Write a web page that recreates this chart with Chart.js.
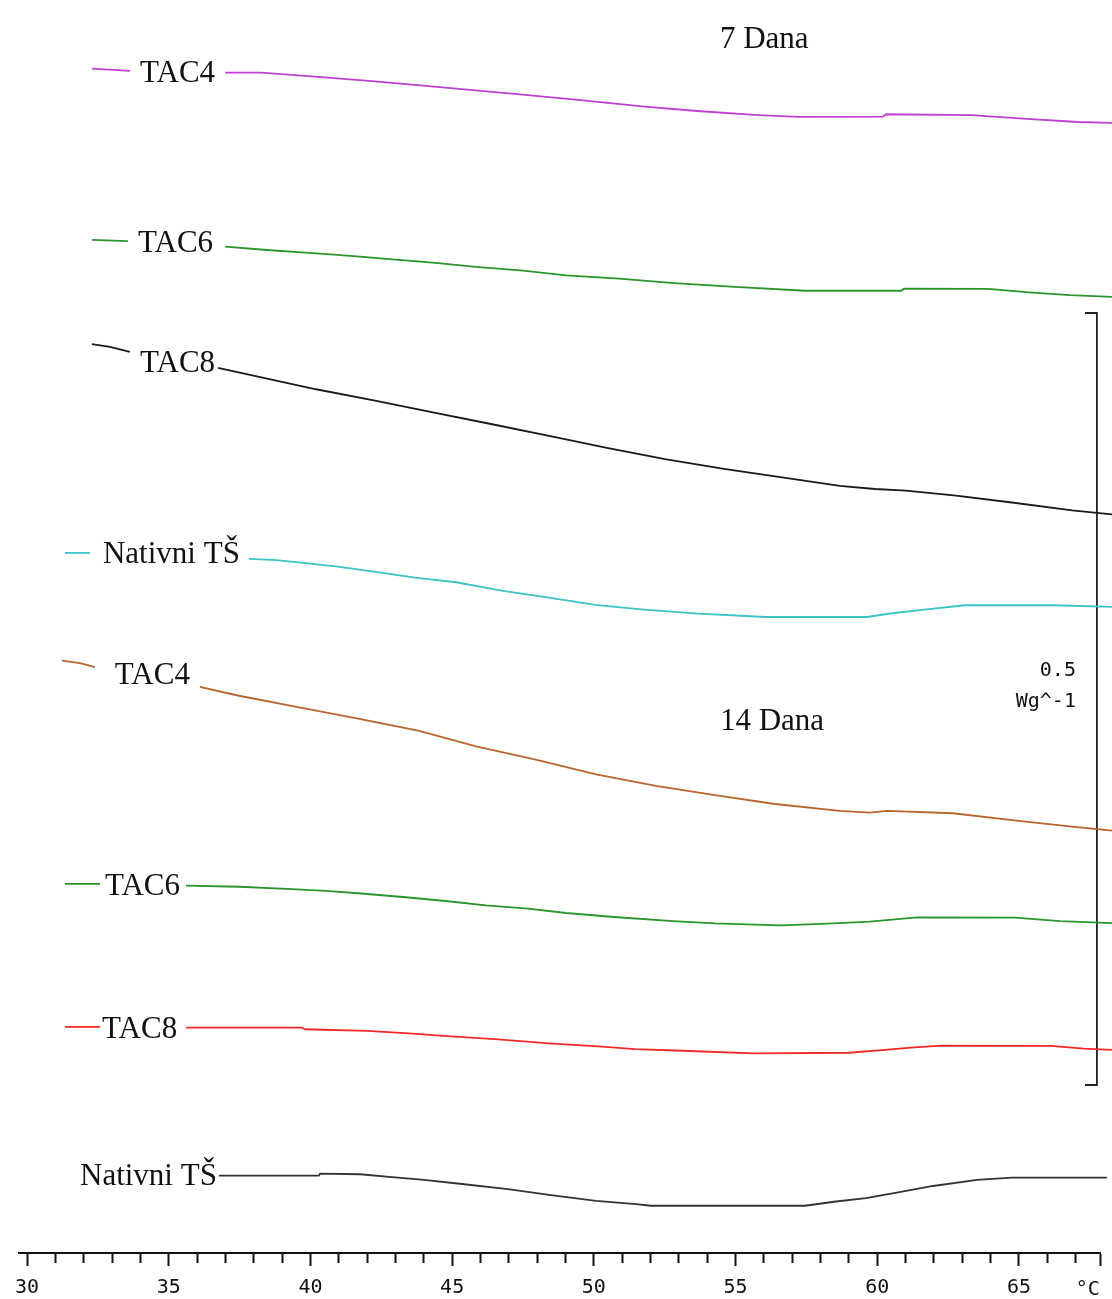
<!DOCTYPE html>
<html lang="hr">
<head>
  <meta charset="UTF-8" />
  <title>DSC – TAC uzorci, 7 i 14 dana</title>
  <script src="https://cdn.jsdelivr.net/npm/chart.js"></script>
  <style>
    body { margin: 0; background: #fff; }
    .wrap { width: 1112px; height: 1299px; }
  </style>
</head>
<body>
  <div class="wrap"><canvas id="dsc"></canvas></div>

  <script>
    // temperature (°C) and heat flow (mW/g, offset curves); null = gap behind a label
    const tac4_7T = [32.29, 33.63, 35.3, 36.99, 38.26, 39.81, 41.96, 43.58, 45.14, 47.29, 49.44, 51.80, 53.64, 55.79, 57.24, 60.20, 60.31, 63.31, 65.14, 67.08, 68.28];
    const tac4_7V = [767.0, 765.6, null, 764.5, 764.5, 762.3, 759.3, 756.7, 754.1, 750.5, 746.8, 742.4, 739.6, 737.0, 735.8, 736.0, 737.5, 737.0, 734.7, 732.5, 731.9];

    const tac6_7T = [32.29, 33.56, 35.3, 36.99, 38.47, 39.70, 40.83, 41.85, 42.67, 44.32, 45.84, 47.50, 49.02, 50.89, 52.83, 54.98, 57.45, 60.84, 60.94, 63.91, 65.46, 66.80, 68.28];
    const tac6_7V = [656.1, 655.4, null, 651.8, 649.6, 648.1, 646.6, 645.1, 643.8, 641.4, 638.6, 636.2, 633.2, 631.0, 628.2, 625.7, 623.2, 623.2, 624.5, 624.4, 622.0, 620.3, 619.2];

    const tac8_7T = [32.29, 32.93, 33.63, 35.2, 36.74, 38.15, 40.20, 42.28, 44.32, 46.37, 48.42, 50.46, 52.51, 54.59, 56.64, 58.68, 59.92, 61.01, 62.78, 64.82, 66.87, 68.28];
    const tac8_7V = [588.7, 586.8, 583.6, null, 573.2, 567.6, 559.4, 552.0, 544.5, 536.9, 529.2, 521.4, 514.1, 507.8, 502.4, 496.8, 494.8, 493.7, 490.5, 485.9, 481.0, 478.4];

    const nat_7T = [31.34, 32.22, 35.0, 37.83, 38.79, 39.67, 40.97, 42.24, 43.69, 45.14, 46.79, 48.42, 50.04, 51.66, 53.67, 56.07, 59.64, 60.59, 61.75, 63.09, 66.20, 68.28];
    const nat_7V = [453.4, 453.4, null, 449.5, 448.8, 447.1, 444.5, 441.3, 437.4, 434.4, 428.8, 424.4, 419.7, 416.9, 414.1, 411.9, 411.9, 414.5, 416.9, 419.5, 419.5, 418.4];

    const tac4_14T = [31.23, 31.87, 32.40, 34.2, 36.10, 37.48, 39.60, 41.68, 43.80, 45.88, 47.99, 50.08, 52.19, 54.27, 56.39, 58.68, 59.74, 60.34, 62.67, 64.75, 66.87, 68.28];
    const tac4_14V = [383.6, 382.1, 379.5, null, 366.6, 360.9, 353.4, 346.1, 338.3, 328.0, 319.3, 310.0, 302.5, 296.6, 290.8, 286.3, 285.2, 286.3, 284.8, 280.4, 276.1, 273.5];

    const tac6_14T = [31.34, 32.58, 34.0, 35.61, 37.48, 39.17, 40.55, 41.68, 43.37, 44.85, 46.19, 47.68, 49.02, 50.71, 52.79, 54.27, 56.57, 58.26, 59.74, 61.40, 64.86, 66.45, 68.28];
    const tac6_14V = [239.0, 239.0, null, 237.9, 237.2, 235.8, 234.5, 233.0, 230.4, 227.8, 225.2, 223.0, 220.2, 217.6, 215.0, 213.5, 212.2, 213.3, 214.6, 217.4, 217.2, 215.0, 213.7];

    const tac8_14T = [31.34, 32.58, 34.0, 35.61, 39.70, 39.81, 42.00, 43.48, 44.85, 46.62, 48.42, 50.29, 51.45, 53.11, 55.65, 59.00, 60.27, 61.19, 62.25, 66.13, 67.29, 68.28];
    const tac8_14V = [146.4, 146.4, null, 145.9, 145.9, 144.9, 143.8, 142.3, 140.5, 138.4, 135.8, 133.6, 132.1, 131.0, 129.3, 129.7, 131.5, 133.0, 134.3, 134.1, 132.3, 131.5];

    const nat_14T = [36.77, 40.30, 40.34, 41.75, 42.98, 44.01, 45.35, 46.97, 48.42, 50.08, 51.49, 52.02, 57.45, 58.47, 59.60, 60.73, 61.97, 63.52, 64.75, 68.10, 68.28];
    const nat_14V = [50.1, 50.1, 51.4, 51.0, 49.0, 47.3, 44.7, 41.3, 37.6, 33.7, 31.7, 30.6, 30.6, 33.2, 35.6, 39.3, 43.4, 47.3, 48.8, 48.8, 47.9];

    // scale bar: 0.5 W/g
    const barT = [67.33, 67.75, 67.75, 67.33];
    const barV = [608.8, 608.8, 108.8, 108.8];

    const xTicks = [30, 35, 40, 45, 50, 55, 60, 65];

    // text written on the plot, anchored in data units (left edge / baseline)
    const notes = [
      { text: 'TAC4', t: 33.99, v: 758.1 },
      { text: 'TAC6', t: 33.92, v: 648.3 },
      { text: 'TAC8', t: 33.99, v: 570.6 },
      { text: 'Nativni TŠ', t: 32.68, v: 446.9 },
      { text: 'TAC4', t: 33.10, v: 368.5 },
      { text: 'TAC6', t: 32.75, v: 231.9 },
      { text: 'TAC8', t: 32.65, v: 139.2 },
      { text: 'Nativni TŠ', t: 31.87, v: 44.0 },
      { text: '7 Dana', t: 54.45, v: 780.4 },
      { text: '14 Dana', t: 54.45, v: 338.7 }
    ];
    const barNotes = [
      { text: '0.5', t: 67.01, v: 373.7 },
      { text: 'Wg^-1', t: 67.01, v: 353.6 }
    ];

    const pts = (t, v) => t.map((x, i) => ({ x: x, y: v[i] }));
    const line = (t, v, color) => ({
      data: pts(t, v), borderColor: color, borderWidth: 1.8,
      pointRadius: 0, tension: 0, spanGaps: false, clip: false
    });

    const textPlugin = {
      id: 'notes',
      afterDatasetsDraw(chart) {
        const { ctx, scales: { x, y }, chartArea } = chart;
        ctx.save();
        ctx.fillStyle = '#111';
        ctx.textBaseline = 'alphabetic';
        ctx.font = '31px "Liberation Serif", "Times New Roman", serif';
        ctx.textAlign = 'left';
        notes.forEach(n => ctx.fillText(n.text, x.getPixelForValue(n.t), y.getPixelForValue(n.v)));
        ctx.font = '20px "DejaVu Sans Mono", monospace';
        ctx.textAlign = 'right';
        barNotes.forEach(n => ctx.fillText(n.text, x.getPixelForValue(n.t), y.getPixelForValue(n.v)));
        ctx.textAlign = 'center';
        ctx.textBaseline = 'middle';
        ctx.fillText('°C', x.getPixelForValue(67.43), chartArea.bottom + 37);
        ctx.restore();
      }
    };

    new Chart(document.getElementById('dsc'), {
      type: 'line',
      data: {
        datasets: [
          line(tac4_7T, tac4_7V, '#bf40d2'),
          line(tac6_7T, tac6_7V, '#2a952a'),
          line(tac8_7T, tac8_7V, '#1a1a1a'),
          line(nat_7T, nat_7V, '#3cc3c6'),
          line(tac4_14T, tac4_14V, '#b8652e'),
          line(tac6_14T, tac6_14V, '#2a952a'),
          line(tac8_14T, tac8_14V, '#f52828'),
          line(nat_14T, nat_14V, '#333333'),
          line(barT, barV, '#222222')
        ]
      },
      options: {
        responsive: true,
        maintainAspectRatio: false,
        animation: false,
        layout: { padding: { left: 18.5, right: 11.4, top: 0, bottom: 0 } },
        plugins: { legend: { display: false }, tooltip: { enabled: false } },
        scales: {
          x: {
            type: 'linear',
            min: 29.7,
            max: 67.88,
            afterFit: s => { s.height = 46; },
            afterBuildTicks: s => { s.ticks.push({ value: s.max }); },
            border: { display: true, color: '#111', width: 2 },
            grid: {
              drawOnChartArea: false,
              drawTicks: true,
              tickLength: 13,
              tickWidth: 2,
              tickColor: '#111',
              tickBorderDash: c => (c.tick && Number.isInteger(c.tick.value) && !xTicks.includes(c.tick.value) ? [9, 30] : [])
            },
            ticks: {
              stepSize: 1,
              includeBounds: false,
              autoSkip: false,
              maxRotation: 0,
              padding: 10,
              color: '#111',
              font: { family: '"DejaVu Sans Mono", monospace', size: 20 },
              callback: v => (xTicks.includes(v) ? String(v) : '')
            }
          },
          y: { display: false, min: 0, max: 811.5 }
        }
      },
      plugins: [textPlugin]
    });
  </script>
</body>
</html>
